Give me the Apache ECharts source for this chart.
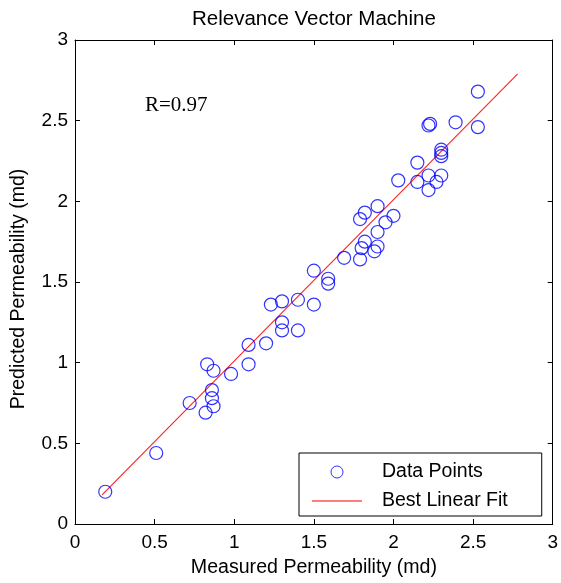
<!DOCTYPE html>
<html>
<head>
<meta charset="utf-8">
<script src="https://cdn.jsdelivr.net/npm/echarts@6/dist/echarts.min.js"></script>
<style>
html,body{margin:0;padding:0;background:#fff;}
#chart{width:561px;height:583px;}
</style>
</head>
<body>
<div id="chart"></div>
<script>
// Data
const measured = [0.19,0.51,0.72,0.82,0.83,0.87,0.86,0.86,0.87,0.98,1.09,1.09,1.20,1.23,1.30,1.30,1.30,1.40,1.40,1.50,1.50,1.59,1.59,1.69,1.79,1.80,1.82,1.88,1.90,1.90,1.95,2.00,1.79,1.82,1.90,2.03,2.15,2.15,2.22,2.22,2.27,2.30,2.30,2.30,2.30,2.22,2.23,2.39,2.53,2.53];
const predicted = [0.20,0.44,0.75,0.69,0.99,0.95,0.83,0.78,0.73,0.93,1.11,0.99,1.12,1.36,1.38,1.25,1.20,1.39,1.20,1.57,1.36,1.52,1.49,1.65,1.64,1.71,1.75,1.69,1.72,1.81,1.87,1.91,1.89,1.93,1.97,2.13,2.12,2.24,2.16,2.07,2.12,2.16,2.32,2.30,2.28,2.47,2.48,2.49,2.68,2.46];
const fitX = [0.17, 2.78];
const fitY = [0.18, 2.79];
const xTicks = [0, 0.5, 1, 1.5, 2, 2.5, 3];
const yTicks = [0, 0.5, 1, 1.5, 2, 2.5, 3];
const titleText = 'Relevance Vector Machine';
const rText = 'R=0.97';
const xName = 'Measured Permeability (md)';
const yName = 'Predicted Permeability (md)';
const seriesNames = ['Data Points', 'Best Linear Fit'];

const FONT = 'Liberation Sans, Arial, sans-serif';

const chart = echarts.init(document.getElementById('chart'), null, {renderer: 'canvas'});

const axisCommon = {
  min: 0, max: 3, interval: 0.5,
  axisLine: {show: true, onZero: false, lineStyle: {color: '#000', width: 1}},
  axisTick: {show: true, inside: true, length: 5, lineStyle: {color: '#000', width: 1}},
  splitLine: {show: false}
};

chart.setOption({
  animation: false,
  backgroundColor: '#fff',
  title: [
    {text: titleText, left: 192, top: 9, padding: 0,
     textStyle: {fontFamily: FONT, fontSize: 20.5, fontWeight: 'normal', color: '#000'}},
    {text: rText, left: 145, top: 95, padding: 0,
     textStyle: {fontFamily: 'Liberation Serif, Times New Roman, serif', fontSize: 21, fontWeight: 'normal', color: '#000'}}
  ],
  grid: {left: 75, top: 40, width: 481, height: 490, containLabel: false},
  xAxis: [
    Object.assign({}, axisCommon, {
      type: 'value', position: 'bottom',
      name: xName, nameLocation: 'middle', nameGap: 34,
      nameTextStyle: {fontFamily: FONT, fontSize: 19.6, color: '#000'},
      axisLabel: {show: true, margin: 9, fontFamily: FONT, fontSize: 19, color: '#000',
        formatter: v => (xTicks.indexOf(v) >= 0 ? String(v) : '')}
    }),
    Object.assign({}, axisCommon, {
      type: 'value', position: 'top', axisLabel: {show: false}
    })
  ],
  yAxis: [
    Object.assign({}, axisCommon, {
      type: 'value', position: 'left',
      name: yName, nameLocation: 'middle', nameGap: 46,
      nameTextStyle: {fontFamily: FONT, fontSize: 19.5, color: '#000', padding: [0, 14, 0, 0]},
      axisLabel: {show: true, margin: 7, fontFamily: FONT, fontSize: 19, color: '#000',
        formatter: v => (yTicks.indexOf(v) >= 0 ? String(v) : '')}
    }),
    Object.assign({}, axisCommon, {
      type: 'value', position: 'right', axisLabel: {show: false}
    })
  ],
  legend: {
    show: true, orient: 'vertical', left: 299, top: 453,
    backgroundColor: '#fff', borderColor: '#000', borderWidth: 1, borderRadius: 0,
    padding: [9, 34, 5, 13],
    itemWidth: 50, itemHeight: 12, itemGap: 9,
    textStyle: {fontFamily: FONT, fontSize: 19.5, color: '#000', padding: [0, 0, 0, 15]},
    data: [
      {name: seriesNames[0], icon: 'circle', itemStyle: {color: 'rgba(0,0,0,0)', borderColor: '#0000ff', borderWidth: 1}},
      {name: seriesNames[1], icon: 'path://M0,0 L50,0 L50,1 L0,1 Z', itemStyle: {color: '#ff0000', borderWidth: 0}}
    ]
  },
  series: [
    {
      name: seriesNames[0], type: 'scatter',
      symbol: 'circle', symbolSize: 13,
      itemStyle: {color: 'rgba(0,0,0,0)', borderColor: '#0000ff', borderWidth: 1.2},
      data: measured.map((m, i) => [m, predicted[i]]),
      z: 3
    },
    {
      name: seriesNames[1], type: 'line',
      symbol: 'none',
      lineStyle: {color: '#ff2020', width: 1.1},
      itemStyle: {color: '#ff0000'},
      data: fitX.map((x, i) => [x, fitY[i]]),
      z: 2
    }
  ]
});
</script>
</body>
</html>
